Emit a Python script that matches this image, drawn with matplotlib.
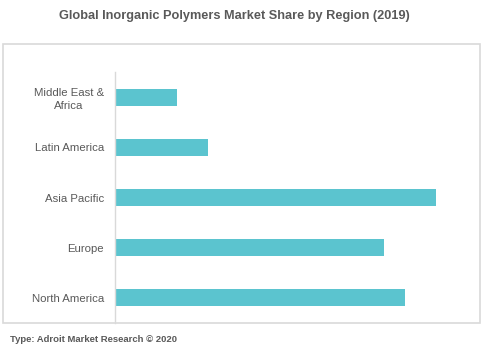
import matplotlib
matplotlib.use("Agg")
import matplotlib.pyplot as plt
from matplotlib.patches import Rectangle

regions = ["North America", "Europe", "Asia Pacific", "Latin America", "Middle East &\nAfrica"]
share = [28, 26, 31, 9, 6]

bar_color = "#5bc4cf"
text_color = "#595959"
line_color = "#d9d9d9"

plt.rcParams["font.family"] = ["Liberation Sans", "DejaVu Sans"]

fig = plt.figure(figsize=(4.87, 3.55), dpi=100)
ax = fig.add_axes([115 / 487, 32 / 355, 362 / 487, 251 / 355])

ax.barh(range(len(regions)), share, height=0.34, color=bar_color)
ax.set_yticks(range(len(regions)))
ax.set_yticklabels(regions, color=text_color, fontsize=8.2,
                   multialignment="center", linespacing=1.35)
ax.tick_params(axis="y", length=0, pad=8)
ax.set_xticks([])
ax.set_xlim(0, 35)
ax.set_ylim(-0.5, 4.5)
for side in ("top", "right", "bottom"):
    ax.spines[side].set_visible(False)
ax.spines["left"].set_color(line_color)
ax.spines["left"].set_linewidth(1)

# outer frame around the plot area
fig.patches.append(Rectangle((3 / 487, 32 / 355), 477 / 487, 279 / 355,
                             transform=fig.transFigure, fill=False,
                             edgecolor=line_color, linewidth=1.2))

fig.text(234 / 487, 1 - 16 / 355,
         "Global Inorganic Polymers Market Share by Region (2019)",
         ha="center", va="center", fontsize=9.2, fontweight="bold",
         color=text_color)
fig.text(10 / 487, 1 - 340 / 355, "Type: Adroit Market Research \u00a9 2020",
         ha="left", va="center", fontsize=6.8, fontweight="bold",
         color=text_color)

fig.savefig("out.png", dpi=100)
